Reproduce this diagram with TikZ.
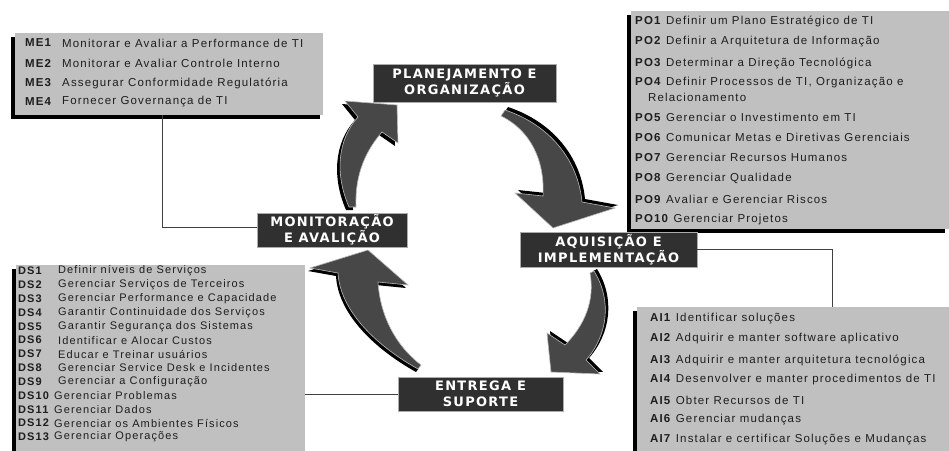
\documentclass[tikz,border=0pt]{standalone}
\usepackage{fontspec}
\setmainfont{Liberation Sans}
\newfontfamily\bodyfont{Liberation Sans}[LetterSpace=10]
\newfontfamily\lblfont{DejaVu Sans Bold}[LetterSpace=10]
\usetikzlibrary{calc}
\definecolor{boxgray}{HTML}{C0C0C0}
\definecolor{lbldark}{HTML}{303030}
\definecolor{arrowgray}{HTML}{474747}
\definecolor{txtcol}{HTML}{1E1E1E}
\definecolor{conncol}{HTML}{404040}
\begin{document}
\begin{tikzpicture}[x=1pt,y=-1pt,
  graybox/.style={fill=boxgray, draw=none, inner sep=0pt, anchor=north west},
  shadowbox/.style={fill=black},
  txt/.style={anchor=west, inner sep=0pt, text=txtcol, font=\bodyfont\fontsize{11.5}{13}\selectfont},
  dstxt/.style={anchor=west, inner sep=0pt, text=txtcol, font=\bodyfont\fontsize{11}{13}\selectfont},
  lbl/.style={fill=lbldark, draw=gray!65, line width=0.8pt, text=white, align=center, inner sep=0pt,
    font=\lblfont\fontsize{13}{16}\selectfont},
  conn/.style={draw=conncol, line width=0.9pt},
  arrbody/.style={fill=arrowgray, draw=gray!55, line width=0.6pt},
  arrshadow/.style={fill=black},
  arrA/.style={insert path={(349,207) .. controls (335,175) and (337,140) .. (358,117) -- (345,101) -- (397,105) -- (398,143) -- (382,132) .. controls (362,155) and (355,180) .. (356,207) -- cycle}},
  arrB/.style={insert path={(505,110) .. controls (550,125) and (578,160) .. (582,202) -- (615,208) -- (553,228) -- (515,193) -- (543,196) .. controls (545,160) and (530,130) .. (501,116) -- cycle}},
  arrC/.style={insert path={(594,271) .. controls (612,300) and (608,335) .. (586,360) -- (600,374) -- (551,372) -- (547,333) -- (565,345) .. controls (585,325) and (595,300) .. (590,273) -- cycle}},
  arrD/.style={insert path={(418,369) .. controls (375,345) and (340,310) .. (338,273) -- (310,268) -- (368,250) -- (408,285) -- (378,282) .. controls (380,315) and (395,345) .. (421,365) -- cycle}}
]
\useasboundingbox (0,0) rectangle (949,450);
\fill[white] (0,0) rectangle (949,450);

% ---------- curved arrows ----------
\fill[arrshadow, shift={(-3,3)}, arrA];
\path[arrbody, arrA];
\fill[arrshadow, shift={(3,-3)}, arrB];
\path[arrbody, arrB];
\fill[arrshadow, shift={(3,-2)}, arrC];
\path[arrbody, arrC];
\fill[arrshadow, shift={(-2,3)}, arrD];
\path[arrbody, arrD];

% ---------- gray list boxes (shadows first) ----------
\fill[shadowbox] (11,37) rectangle (320,119);
\node[graybox, minimum width=308pt, minimum height=82pt] (me) at (15,33) {};
\fill[shadowbox] (627,15) rectangle (945,233);
\node[graybox, minimum width=318pt, minimum height=218pt] (po) at (631,11) {};
\fill[shadowbox] (12,269) rectangle (302,460);
\node[graybox, minimum width=289pt, minimum height=190pt] (ds) at (16,265) {};
\fill[shadowbox] (633,311) rectangle (949,460);
\node[graybox, minimum width=315pt, minimum height=150pt] (ai) at (637,307) {};

% ---------- phase labels ----------
\node[lbl, minimum width=183pt, minimum height=38pt] (plan) at (464.5,83) {PLANEJAMENTO E\\ORGANIZAÇÃO};
\node[lbl, minimum width=150pt, minimum height=34pt] (mon) at (332,230) {MONITORAÇÃO\\E AVALIÇÃO};
\node[lbl, minimum width=177pt, minimum height=35pt] (aq) at (608.5,249.5) {AQUISIÇÃO E\\IMPLEMENTAÇÃO};
\node[lbl, minimum width=165pt, minimum height=34pt] (ent) at (480.5,394) {ENTREGA E\\SUPORTE};

% ---------- connectors ----------
\coordinate (mecorner) at (162,0);
\coordinate (aitop) at (832,307);
\draw[conn] (me.south -| mecorner) |- ($(mon.west)+(0,-3)$);
\draw[conn] ($(plan.east)+(0,-5)$) -- ($(plan.east)+(0,-5)$ -| po.west);
\draw[conn] (aq.east) -| (aitop);
\draw[conn] (ent.west) -- (ent.west -| ds.east);

% ---------- ME list ----------
\node[txt] (me1l) at (25,43) {\bfseries ME1};
\node[txt] (me1d) at (62,43) {Monitorar e Avaliar a Performance de TI};
\node[txt] (me2l) at (25,63) {\bfseries ME2};
\node[txt] (me2d) at (62,63) {Monitorar e Avaliar Controle Interno};
\node[txt] (me3l) at (25,83) {\bfseries ME3};
\node[txt] (me3d) at (62,83) {Assegurar Conformidade Regulatória};
\node[txt] (me4l) at (25,102) {\bfseries ME4};
\node[txt] (me4d) at (62,102) {Fornecer Governança de TI};

% ---------- PO list ----------
\node[txt] (po1) at (635,21) {\textbf{PO1} Definir um Plano Estratégico de TI};
\node[txt] (po2) at (635,42) {\textbf{PO2} Definir a Arquitetura de Informação};
\node[txt] (po3) at (635,63) {\textbf{PO3} Determinar a Direção Tecnológica};
\node[txt] (po4) at (635,83) {\textbf{PO4} Definir Processos de TI, Organização e};
\node[txt] (po4b) at (648,97) {Relacionamento};
\node[txt] (po5) at (635,117) {\textbf{PO5} Gerenciar o Investimento em TI};
\node[txt] (po6) at (635,137) {\textbf{PO6} Comunicar Metas e Diretivas Gerenciais};
\node[txt] (po7) at (635,157) {\textbf{PO7} Gerenciar Recursos Humanos};
\node[txt] (po8) at (635,178) {\textbf{PO8} Gerenciar Qualidade};
\node[txt] (po9) at (635,199) {\textbf{PO9} Avaliar e Gerenciar Riscos};
\node[txt] (po10) at (635,220) {\textbf{PO10} Gerenciar Projetos};

% ---------- AI list ----------
\node[txt] (ai1) at (650,319) {\textbf{AI1} Identificar soluções};
\node[txt] (ai2) at (650,339) {\textbf{AI2} Adquirir e manter software aplicativo};
\node[txt] (ai3) at (650,360) {\textbf{AI3} Adquirir e manter arquitetura tecnológica};
\node[txt] (ai4) at (650,380) {\textbf{AI4} Desenvolver e manter procedimentos de TI};
\node[txt] (ai5) at (650,400) {\textbf{AI5} Obter Recursos de TI};
\node[txt] (ai6) at (650,420) {\textbf{AI6} Gerenciar mudanças};
\node[txt] (ai7) at (650,440) {\textbf{AI7} Instalar e certificar Soluções e Mudanças};

% ---------- DS list ----------
\node[dstxt] (ds1l) at (18,271.0) {\bfseries DS1};
\node[dstxt] (ds1d) at (58,271.0) {Definir níveis de Serviços};
\node[dstxt] (ds2l) at (18,284.8) {\bfseries DS2};
\node[dstxt] (ds2d) at (58,284.8) {Gerenciar Serviços de Terceiros};
\node[dstxt] (ds3l) at (18,298.7) {\bfseries DS3};
\node[dstxt] (ds3d) at (58,298.7) {Gerenciar Performance e Capacidade};
\node[dstxt] (ds4l) at (18,312.5) {\bfseries DS4};
\node[dstxt] (ds4d) at (58,312.5) {Garantir Continuidade dos Serviços};
\node[dstxt] (ds5l) at (18,326.3) {\bfseries DS5};
\node[dstxt] (ds5d) at (58,326.3) {Garantir Segurança dos Sistemas};
\node[dstxt] (ds6l) at (18,340.2) {\bfseries DS6};
\node[dstxt] (ds6d) at (58,340.2) {Identificar e Alocar Custos};
\node[dstxt] (ds7l) at (18,354.0) {\bfseries DS7};
\node[dstxt] (ds7d) at (58,354.0) {Educar e Treinar usuários};
\node[dstxt] (ds8l) at (18,367.8) {\bfseries DS8};
\node[dstxt] (ds8d) at (58,367.8) {Gerenciar Service Desk e Incidentes};
\node[dstxt] (ds9l) at (18,381.7) {\bfseries DS9};
\node[dstxt] (ds9d) at (58,381.7) {Gerenciar a Configuração};
\node[dstxt] (ds10l) at (18,395.5) {\bfseries DS10};
\node[dstxt] (ds10d) at (54,395.5) {Gerenciar Problemas};
\node[dstxt] (ds11l) at (18,409.3) {\bfseries DS11};
\node[dstxt] (ds11d) at (54,409.3) {Gerenciar Dados};
\node[dstxt] (ds12l) at (18,423.2) {\bfseries DS12};
\node[dstxt] (ds12d) at (54,423.2) {Gerenciar os Ambientes Físicos};
\node[dstxt] (ds13l) at (18,437.0) {\bfseries DS13};
\node[dstxt] (ds13d) at (54,437.0) {Gerenciar Operações};
\end{tikzpicture}
\end{document}
